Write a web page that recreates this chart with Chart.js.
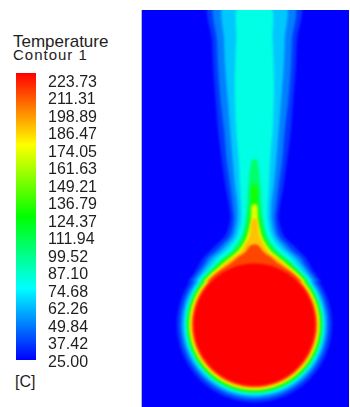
<!DOCTYPE html>
<html>
<head>
<meta charset="utf-8">
<script src="https://cdn.jsdelivr.net/npm/chart.js@4.4.1/dist/chart.umd.min.js"></script>
<style>
  html, body { margin: 0; padding: 0; background: #fff; }
  body { width: 350px; height: 407px; position: relative; overflow: hidden;
         font-family: Arial, "Liberation Sans", sans-serif; color: #1e1e1e; }
  #barCanvas { position: absolute; left: 0; top: 0; }
  #fieldCanvas { position: absolute; left: 141px; top: 10px; border-left: 1px solid #b8b8c8; }
  .lbl { position: absolute; white-space: nowrap; }
</style>
</head>
<body>
<div class="lbl" style="left:13px;top:32.6px;font-size:17px;line-height:17px">Temperature</div>
<div class="lbl" style="left:13px;top:47.3px;font-size:15px;line-height:15px;letter-spacing:1px">Contour 1</div>
<div class="lbl" style="left:15px;top:373.5px;font-size:16px;line-height:16px">[C]</div>
<canvas id="barCanvas" width="140" height="407"></canvas>
<canvas id="fieldCanvas" width="208" height="397"></canvas>
<script>
// colour bar levels [C]
const tickValues = [25.00, 37.42, 49.84, 62.26, 74.68, 87.10, 99.52, 111.94, 124.37,
                    136.79, 149.21, 161.63, 174.05, 186.47, 198.89, 211.31, 223.73];
const tMin = 25.00;
const tMax = 223.73;
// the painted bar runs a little past the labelled levels
const barEnds = [26.8, 230.5];

// temperature field, lengths in x/D, cylinder centred on (0,0)
const cylinderRadius = 0.5;
const isoLevels = [32, 45, 60, 75, 100, 124, 150, 175, 200];
// temperature shown inside each isotherm band
const bandTemps = [36, 50, 64, 80, 104, 128, 168, 186, 210];
// isotherm radius around the cylinder for each level
const ringRadii = [0.639, 0.611, 0.590, 0.574, 0.561, 0.549, 0.537, 0.525, 0.512];
// plume: heights above the cylinder centre and half widths of each isotherm
const plumeHeights = [2.62, 2.33, 2.09, 1.84, 1.59, 1.35, 1.14, 0.98, 0.86, 0.73, 0.65, 0.59, 0.55, 0.50, 0.43, 0.35];
const hw32  = [0.37, 0.35, 0.34, 0.32, 0.30, 0.27, 0.24, 0.21, 0.20, 0.24, 0.32, 0.38, 0.42, 0.45, 0.49, 0.55];
const hw45  = [0.32, 0.31, 0.30, 0.28, 0.25, 0.23, 0.20, 0.18, 0.17, 0.20, 0.27, 0.33, 0.38, 0.41, 0.46, 0.52];
const hw60  = [0.25, 0.25, 0.24, 0.22, 0.20, 0.18, 0.16, 0.14, 0.14, 0.17, 0.23, 0.29, 0.34, 0.38, 0.43, 0.49];
const hw75  = [0.13, 0.15, 0.16, 0.16, 0.15, 0.13, 0.12, 0.11, 0.11, 0.14, 0.19, 0.25, 0.30, 0.34, 0.40, 0.47];
const hw100 = [null, null, null, null, null, 0.02, 0.05, 0.06, 0.07, 0.10, 0.15, 0.20, 0.25, 0.31, 0.38, 0.45];
const hw124 = [null, null, null, null, null, null, 0.02, 0.03, 0.05, 0.08, 0.12, 0.17, 0.23, 0.29, 0.35, 0.43];
const hw150 = [null, null, null, null, null, null, null, 0.02, 0.03, 0.06, 0.10, 0.15, 0.20, 0.26, 0.34, 0.42];
const hw175 = [null, null, null, null, null, null, null, null, 0.02, 0.04, 0.08, 0.12, 0.18, 0.24, 0.32, 0.40];
const hw200 = [null, null, null, null, null, null, null, null, null, null, 0.03, 0.08, 0.14, 0.20, 0.30, 0.39];
const plumeHalfWidths = [hw32, hw45, hw60, hw75, hw100, hw124, hw150, hw175, hw200];

// Fluent style rainbow: blue - cyan - green - yellow - red
function rainbow(T) {
    const t = Math.min(1, Math.max(0, (T - tMin) / (tMax - tMin)));
    let r, g, b;
    if (t < 0.25) { r = 0; g = 255 * t / 0.25; b = 255; }
    else if (t < 0.5) { r = 0; g = 255; b = 255 * (0.5 - t) / 0.25; }
    else if (t < 0.75) { r = 255 * (t - 0.5) / 0.25; g = 255; b = 0; }
    else { r = 255; g = 255 * (1 - t) / 0.25; b = 0; }
    return `rgb(${Math.round(r)},${Math.round(g)},${Math.round(b)})`;
}

// Colour bar
new Chart(document.getElementById('barCanvas'), {
    type: 'bar',
    data: {
        labels: [''],
        datasets: [{
            data: [barEnds],
            barPercentage: 1,
            categoryPercentage: 1,
            borderWidth: 0,
            backgroundColor: (c) => {
                const area = c.chart.chartArea;
                if (!area) return 'blue';
                const grad = c.chart.ctx.createLinearGradient(0, area.bottom, 0, area.top);
                [0, 0.25, 0.5, 0.75, 1].forEach(s => grad.addColorStop(s, rainbow(tMin + s * (tMax - tMin))));
                return grad;
            }
        }]
    },
    options: {
        responsive: false,
        animation: false,
        events: [],
        layout: { padding: { left: 16, top: 73, bottom: 47, right: 0 } },
        plugins: { legend: { display: false }, tooltip: { enabled: false } },
        scales: {
            x: { display: false },
            y: {
                position: 'right',
                min: barEnds[0],
                max: barEnds[1],
                afterFit: (scale) => { scale.width = 104; },
                afterBuildTicks: (scale) => { scale.ticks = tickValues.map(v => ({ value: v })); },
                grid: { display: false, drawTicks: false, tickLength: 0 },
                border: { display: false },
                ticks: {
                    autoSkip: false,
                    padding: 12,
                    color: '#1e1e1e',
                    font: { family: 'Arial, "Liberation Sans", sans-serif', size: 16 },
                    callback: (v) => Number(v).toFixed(2)
                }
            }
        }
    }
});

// Contour field
function ringRadius(c) {
    if (!c.raw) return 0;
    const s = c.chart.scales.x;
    const px = Math.abs(s.getPixelForValue(c.raw.size) - s.getPixelForValue(0));
    return isFinite(px) ? px : 0;
}

function plumeOutline(halfWidths) {
    const left = [], right = [];
    plumeHeights.forEach((h, i) => {
        const w = halfWidths[i];
        if (w === null) return;
        left.push({ x: -w, y: h });
        right.push({ x: w, y: h });
    });
    // up the left edge, then back down the right one
    return left.reverse().concat(right);
}

function disc(radius, col) {
    return {
        type: 'scatter',
        data: [{ x: 0, y: 0, size: radius }],
        pointBackgroundColor: col,
        pointBorderWidth: 0,
        pointRadius: ringRadius,
        pointHoverRadius: ringRadius
    };
}

const fieldSets = [];
// first dataset is drawn last, so hottest goes first
fieldSets.push(disc(cylinderRadius, rainbow(tMax)));
for (let k = isoLevels.length - 1; k >= 0; k--) {
    const col = rainbow(bandTemps[k]);
    fieldSets.push(disc(ringRadii[k], col));
    fieldSets.push({
        type: 'line',
        data: plumeOutline(plumeHalfWidths[k]),
        fill: 'shape',
        backgroundColor: col,
        borderColor: col,
        borderWidth: 0,
        pointRadius: 0,
        tension: 0.3
    });
}

const fieldBackground = {
    id: 'fieldBackground',
    beforeDraw(chart) {
        const { ctx, chartArea: a } = chart;
        ctx.save();
        ctx.fillStyle = rainbow(tMin);
        ctx.fillRect(a.left, a.top, a.right - a.left, a.bottom - a.top);
        ctx.restore();
    }
};

// soften the isotherm steps like the smooth shading of the solver
const smoothShading = {
    id: 'smoothShading',
    beforeDatasetsDraw(chart) {
        chart.ctx.save();
        chart.ctx.filter = 'blur(1.3px)';
    },
    afterDatasetsDraw(chart) {
        chart.ctx.restore();
    }
};

new Chart(document.getElementById('fieldCanvas'), {
    type: 'scatter',
    data: { datasets: fieldSets },
    options: {
        responsive: false,
        animation: false,
        events: [],
        plugins: { legend: { display: false }, tooltip: { enabled: false } },
        scales: {
            x: { type: 'linear', min: -0.926, max: 0.779, display: false },
            y: { type: 'linear', min: -0.676, max: 2.578, display: false }
        }
    },
    plugins: [fieldBackground, smoothShading]
});
</script>
</body>
</html>
